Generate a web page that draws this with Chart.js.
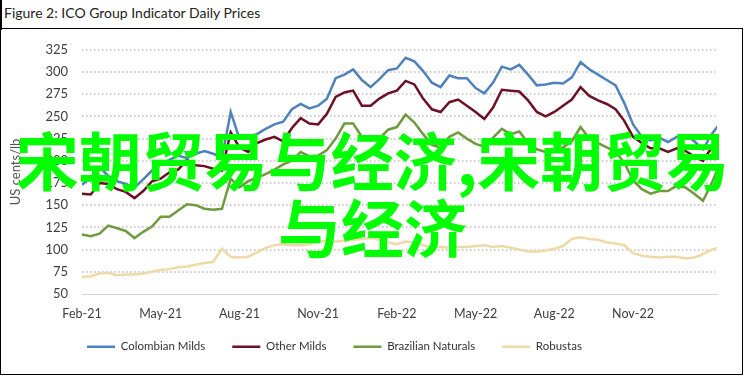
<!DOCTYPE html>
<html>
<head>
<meta charset="utf-8">
<script src="https://cdn.jsdelivr.net/npm/chart.js@4.4.1/dist/chart.umd.min.js"></script>
<style>
  body { margin: 0; background: #fff; }
  #wrap { position: relative; width: 745px; height: 378px; overflow: hidden; font-family: Lato, 'DejaVu Sans Condensed', sans-serif; }
  #title { position: absolute; left: 4px; top: 4px; font-size: 14px; color: #222; }
  #edge { position: absolute; left: 0; top: 0; width: 2px; height: 30px; background: #000; }
  #frame { position: absolute; left: 0; top: 28px; width: 741px; height: 345px; border: 1.5px solid #000; }
  #chartBox { position: absolute; left: 0; top: 28px; width: 744px; height: 347px; }
  #mark { position: absolute; left: 0; top: 124px; width: 745px; text-align: center; font-family: 'Noto Sans CJK SC'; font-weight: bold; font-size: 63px; line-height: 67px; color: #00ff00; pointer-events: none; }
</style>
</head>
<body>
<div id="wrap">
  <div id="edge"></div>
  <div id="frame"></div>
  <div id="title">Figure 2: ICO Group Indicator Daily Prices</div>
  <div id="chartBox"><canvas id="priceChart"></canvas></div>
  <div id="mark">宋朝贸易与经济,宋朝贸易<br>与经济</div>
</div>
<script>
// --- Data (US cents/lb, sampled about every 10 days from Feb-21) ---
const monthLabels = ['Feb-21', 'May-21', 'Aug-21', 'Nov-21', 'Feb-22', 'May-22', 'Aug-22', 'Nov-22'];
const samplesPerMonth = 3;

const colombianMilds = [173,181,193,183,177,174,170,179,189,196,
  201,206,203,208,211,208,203,255,225,228,
  230,236,241,244,258,264,259,262,270,293,
  297,303,291,283,292,302,304,316,312,301,
  288,283,296,293,293,282,276,288,306,303,
  308,297,285,286,288,287,294,311,303,297,
  291,285,265,241,227,223,226,221,227,229,
  222,213,230,243];

const otherMilds = [163,162,175,174,168,165,158,166,177,180,
  187,190,201,195,194,191,189,232,215,210,
  220,224,227,222,237,248,242,241,253,272,
  277,279,262,262,270,276,279,290,286,270,
  258,255,266,269,262,255,247,260,280,279,
  278,268,255,250,255,262,269,283,273,268,
  264,258,245,227,220,214,214,210,214,211,
  205,200,215,228];

const brazilianNaturals = [117,115,118,127,124,121,113,120,126,137,
  137,144,151,150,146,145,146,180,170,177,
  181,185,190,196,200,210,205,206,212,225,
  242,242,227,223,225,235,238,252,243,230,
  218,215,227,232,225,219,216,226,236,230,
  233,220,213,210,212,215,222,238,225,220,
  215,210,198,178,168,163,166,166,172,170,
  163,155,175,198];

const robustas = [69,70,73,74,71,72,72,73,75,77,
  78,80,81,83,85,86,101,92,91,92,
  97,102,105,106,105,105,106,109,110,109,
  110,111,112,113,111,108,106,109,108,105,
  102,103,102,103,103,104,105,103,104,102,
  100,98,98,99,101,104,112,114,112,111,
  108,107,105,96,93,92,91,92,92,90,
  91,95,100,103];

const yTicks = { min: 50, max: 325, step: 25 };

const toPoints = vals => vals.map((v, i) => ({ x: i / samplesPerMonth, y: v }));

Chart.defaults.font.family = "Lato, 'DejaVu Sans Condensed', sans-serif";
Chart.defaults.color = '#404040';

// legend row starts under the y axis and sits a bit higher, like the original figure
const legendShift = {
    id: 'legendShift',
    afterLayout(chart) {
        const lg = chart.legend;
        lg.left += 56;
        lg.right += 56;
        lg.top -= 10;
        lg.bottom -= 10;
    }
};

// dotted horizontal gridlines at the y ticks
const dottedGrid = {
    id: 'dottedGrid',
    beforeDatasetsDraw(chart) {
        const { ctx, chartArea, scales: { y } } = chart;
        ctx.save();
        ctx.strokeStyle = '#bdbdbd';
        ctx.lineWidth = 1.5;
        ctx.setLineDash([1.5, 2.5]);
        y.ticks.forEach(t => {
            if (t.value === yTicks.min) return;
            const py = Math.round(y.getPixelForValue(t.value));
            ctx.beginPath();
            ctx.moveTo(chartArea.left, py);
            ctx.lineTo(chartArea.right, py);
            ctx.stroke();
        });
        ctx.restore();
    }
};

function makeSet(label, vals, color) {
    return { label: label, data: toPoints(vals), borderColor: color, backgroundColor: color, borderWidth: 2.5, pointRadius: 0, tension: 0 };
}

new Chart(document.getElementById('priceChart'), {
    type: 'line',
    data: {
        datasets: [
            makeSet('Colombian Milds', colombianMilds, '#4f81bd'),
            makeSet('Other Milds', otherMilds, '#6d1024'),
            makeSet('Brazilian Naturals', brazilianNaturals, '#6f9a3e'),
            makeSet('Robustas', robustas, '#efd9a7')
        ]
    },
    plugins: [legendShift, dottedGrid],
    options: {
        responsive: true,
        maintainAspectRatio: false,
        animation: false,
        layout: { padding: { left: 4, top: 17, right: 27, bottom: 2.5 } },
        plugins: {
            legend: {
                position: 'bottom',
                align: 'start',
                labels: { usePointStyle: true, pointStyle: 'line', pointStyleWidth: 28, boxWidth: 28, padding: 27, font: { size: 11.5 }, color: '#333' }
            },
            tooltip: { enabled: false }
        },
        scales: {
            x: {
                type: 'linear',
                min: 0,
                max: 24.2,
                grid: { display: false, drawTicks: false },
                border: { display: true, color: '#d0d0d0', width: 1 },
                ticks: {
                    stepSize: 3,
                    padding: 12,
                    maxRotation: 0,
                    autoSkip: false,
                    font: { size: 12.5 },
                    callback: v => monthLabels[v / 3] || ''
                },
                afterFit: s => { s.height = 30; }
            },
            y: {
                min: yTicks.min,
                max: yTicks.max,
                grid: { display: false, drawTicks: false },
                border: { display: false },
                ticks: { stepSize: yTicks.step, padding: 14, font: { size: 13 } },
                title: { display: true, text: 'US cents/lb', font: { size: 13 }, color: '#555', padding: { top: 4, bottom: 0 } },
                afterFit: s => { s.width = 78; }
            }
        }
    }
});
</script>
</body>
</html>
